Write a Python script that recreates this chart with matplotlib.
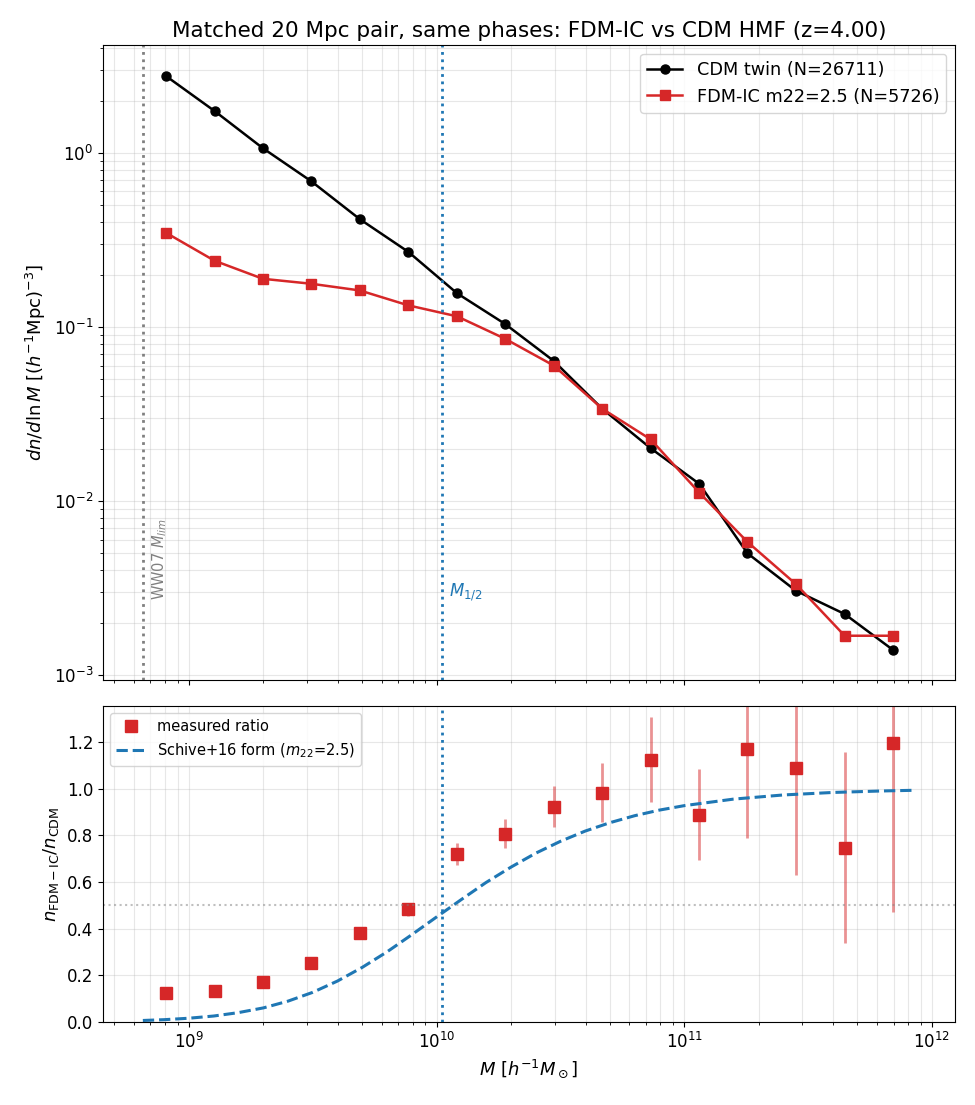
import matplotlib
matplotlib.use('Agg')
import matplotlib.pyplot as plt
import numpy as np

# bin centres [h^-1 Msun]
mass = [8.07e8, 1.27e9, 1.99e9, 3.12e9, 4.90e9, 7.69e9, 1.21e10, 1.89e10,
        2.97e10, 4.66e10, 7.31e10, 1.15e11, 1.80e11, 2.82e11, 4.44e11, 6.97e11]

# dn/dlnM
hmf_cdm = [2.77, 1.74, 1.064, 0.687, 0.416, 0.270, 0.156, 0.104,
           0.0638, 0.0339, 0.0201, 0.01253, 0.0050, 0.00305, 0.00224, 0.00139]
hmf_fdm = [0.348, 0.240, 0.189, 0.177, 0.162, 0.133, 0.115, 0.0855,
           0.0600, 0.0339, 0.0226, 0.01116, 0.00581, 0.00333, 0.00168, 0.00168]

# ratio + errors
ratio = [0.123, 0.134, 0.173, 0.254, 0.383, 0.484, 0.721, 0.807,
         0.923, 0.983, 1.123, 0.889, 1.169, 1.090, 0.747, 1.197]
ratio_err = [0.004, 0.005, 0.007, 0.012, 0.019, 0.028, 0.047, 0.063,
             0.089, 0.125, 0.182, 0.195, 0.382, 0.461, 0.408, 0.727]

# Schive+16 suppression curve (m22=2.5)
schive_m = [6.52e8, 7.94e8, 1.0e9, 1.26e9, 1.58e9, 2.0e9, 2.51e9, 3.16e9,
            3.98e9, 5.01e9, 6.31e9, 7.94e9, 1.0e10, 1.26e10, 1.58e10, 2.0e10,
            2.51e10, 3.16e10, 3.98e10, 5.01e10, 6.31e10, 7.94e10, 1.0e11,
            1.58e11, 2.51e11, 3.98e11, 6.31e11, 8.5e11]
schive_r = [0.0066, 0.0100, 0.0162, 0.0257, 0.0400, 0.0605, 0.0892, 0.127,
            0.1755, 0.234, 0.3006, 0.374, 0.450, 0.525, 0.597, 0.664,
            0.723, 0.774, 0.818, 0.854, 0.884, 0.908, 0.927,
            0.955, 0.9728, 0.9835, 0.990, 0.9928]

m_lim = 6.52e8
m_half = 1.05e10

fig = plt.figure(figsize=(9.75, 11.05), dpi=100)
ax1 = fig.add_axes([0.1056, 0.3846, 0.874, 0.5747])
ax2 = fig.add_axes([0.1056, 0.0751, 0.874, 0.2860], sharex=ax1)

# top: mass functions
ax1.plot(mass, hmf_cdm, color='black', marker='o', ms=6.5, lw=1.8, label='CDM twin (N=26711)')
ax1.plot(mass, hmf_fdm, color='#d62728', marker='s', ms=7, lw=1.8, label='FDM-IC m22=2.5 (N=5726)')
ax1.axvline(m_lim, color='gray', ls=':', lw=2)
ax1.axvline(m_half, color='#1f77b4', ls=':', lw=2)
ax1.text(7.0e8, 0.126, 'WW07 $M_{lim}$', rotation=90, color='gray', fontsize=10.5,
         transform=ax1.get_xaxis_transform(), ha='left', va='bottom')
ax1.text(m_half * 1.07, 0.139, '$M_{1/2}$', color='#1f77b4', fontsize=12,
         transform=ax1.get_xaxis_transform(), ha='left', va='center')
ax1.set_xscale('log')
ax1.set_yscale('log')
ax1.set_xlim(4.5e8, 1.24e12)
ax1.set_ylim(9.35e-4, 4.17)
ax1.set_ylabel(r'$dn/d\ln M$ $[(h^{-1}\mathrm{Mpc})^{-3}]$', fontsize=13)
ax1.set_title('Matched 20 Mpc pair, same phases: FDM-IC vs CDM HMF (z=4.00)', fontsize=15.5)
ax1.grid(True, which='both', alpha=0.3)
ax1.legend(loc='upper right', fontsize=12.7)
ax1.tick_params(labelbottom=False, labelsize=12)

# bottom: ratio
ax2.errorbar(mass, ratio, yerr=ratio_err, fmt='none', ecolor='#d62728', alpha=0.5, elinewidth=2)
ax2.plot(mass, ratio, ls='none', marker='s', ms=8, color='#d62728', label='measured ratio')
ax2.plot(schive_m, schive_r, color='#1f77b4', ls='--', lw=2.2, label='Schive+16 form ($m_{22}$=2.5)')
ax2.axhline(0.5, color='gray', ls=':', alpha=0.5, lw=1.5)
ax2.axvline(m_half, color='#1f77b4', ls=':', lw=2)
ax2.set_ylim(0, 1.354)
ax2.set_xlabel(r'$M$ $[h^{-1}M_\odot]$', fontsize=13)
ax2.set_ylabel(r'$n_{\rm FDM-IC}/n_{\rm CDM}$', fontsize=13)
ax2.grid(True, which='both', alpha=0.3)
ax2.legend(loc='upper left', fontsize=10.5)
ax2.tick_params(labelsize=12)

fig.savefig('out.png', dpi=100)
